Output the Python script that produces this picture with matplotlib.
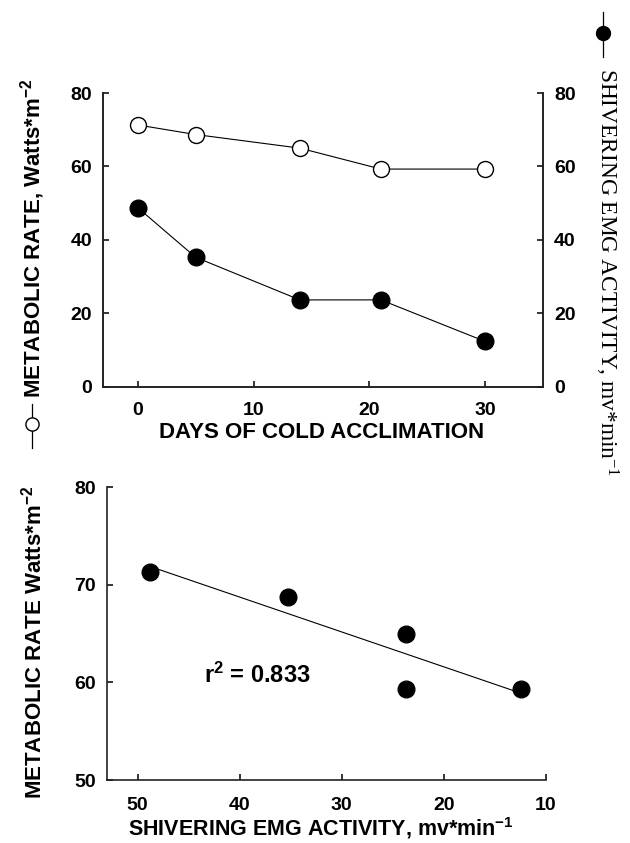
import numpy as np
import matplotlib
matplotlib.use("Agg")
import matplotlib.pyplot as plt
from matplotlib.lines import Line2D

plt.rcParams['font.family'] = ['Liberation Sans', 'DejaVu Sans']
plt.rcParams['mathtext.default'] = 'regular'

# data
days = [0, 5, 14, 21, 30]
metabolic_rate = [71.3, 68.7, 65.0, 59.3, 59.3]   # Watts*m-2
emg_activity = [48.8, 35.3, 23.7, 23.7, 12.4]     # mv*min-1
r2_label = "r$^{2}$ = 0.833"

W, H = 630, 843
fig = plt.figure(figsize=(W / 100, H / 100), dpi=100)


def px(x, y):
    return x / W, 1 - y / H


def style_axis(ax, ticklen=4.5):
    ax.tick_params(direction='in', length=ticklen, width=1.1, labelsize=14)
    for lab in ax.get_xticklabels() + ax.get_yticklabels():
        lab.set_fontweight('bold')
    for s in ax.spines.values():
        s.set_linewidth(1.2)
        s.set_color('#222222')


# ---- top panel: time course ----
ax1 = fig.add_axes([103 / W, 1 - 387 / H, 440 / W, 294 / H])
ax1.plot(days, metabolic_rate, '-o', color='black', lw=0.8, ms=11.5,
         mfc='white', mec='black', mew=1.0, zorder=3)
ax1.set_xlim(-3, 35)
ax1.set_ylim(0, 80)
ax1.set_xticks([0, 10, 20, 30])
ax1.set_yticks([0, 20, 40, 60, 80])
ax1.spines['top'].set_visible(False)
style_axis(ax1)
ax1.tick_params(axis='x', pad=11)
ax1.tick_params(axis='y', pad=8)

ax1r = ax1.twinx()
ax1r.plot(days, emg_activity, '-o', color='black', lw=0.8, ms=12,
          mfc='black', mec='black', zorder=3)
ax1r.set_ylim(0, 80)
ax1r.set_yticks([0, 20, 40, 60, 80])
ax1r.spines['top'].set_visible(False)
style_axis(ax1r)
ax1r.tick_params(axis='y', pad=8)

fig.text(*px(322, 433), "DAYS OF COLD ACCLIMATION", ha='center', va='center',
         fontsize=16, fontweight='bold')
fig.text(*px(33, 238), "METABOLIC RATE, Watts*m$^{-2}$", ha='center',
         va='center', rotation=90, fontsize=16, fontweight='bold')
fig.text(*px(607, 272), "SHIVERING EMG ACTIVITY, mv*min$^{-1}$", ha='center',
         va='center', rotation=-90, fontsize=16.8,
         family=['Liberation Serif', 'DejaVu Serif'])

# legend keys next to the axis titles
fig.add_artist(Line2D([32 / W, 32 / W], [1 - 404 / H, 1 - 448 / H], color='black',
                      lw=0.9, transform=fig.transFigure))
fig.add_artist(Line2D([32 / W], [1 - 424 / H], marker='o', ms=9.5, mfc='white',
                      mec='black', mew=1.0, transform=fig.transFigure))
fig.add_artist(Line2D([603 / W, 603 / W], [1 - 12 / H, 1 - 57 / H], color='black',
                      lw=0.9, transform=fig.transFigure))
fig.add_artist(Line2D([603 / W], [1 - 33 / H], marker='o', ms=10, mfc='black',
                      mec='black', transform=fig.transFigure))

# ---- bottom panel: regression ----
ax2 = fig.add_axes([107 / W, 1 - 780 / H, 439 / W, 293 / H])
x = np.array(emg_activity)
y = np.array(metabolic_rate)
slope, icpt = np.polyfit(x, y, 1)
xfit = np.array([x.max(), x.min()])
ax2.plot(xfit, slope * xfit + icpt, color='black', lw=0.8, zorder=2)
ax2.plot(x, y, 'o', color='black', ms=12, zorder=3)
ax2.set_xlim(53, 10)
ax2.set_ylim(50, 80)
ax2.set_xticks([50, 40, 30, 20, 10])
ax2.set_yticks([50, 60, 70, 80])
ax2.spines['top'].set_visible(False)
ax2.spines['right'].set_visible(False)
style_axis(ax2)
ax2.tick_params(axis='x', pad=12)
ax2.tick_params(axis='y', pad=8)
ax2.text(43.5, 60.7, r2_label, ha='left', va='center', fontsize=17,
         fontweight='bold')

fig.text(*px(321, 828), "SHIVERING EMG ACTIVITY, mv*min$^{-1}$", ha='center',
         va='center', fontsize=15.5, fontweight='bold')
fig.text(*px(34, 642), "METABOLIC RATE Watts*m$^{-2}$", ha='center',
         va='center', rotation=90, fontsize=16, fontweight='bold')

fig.savefig("out.png", dpi=100)
